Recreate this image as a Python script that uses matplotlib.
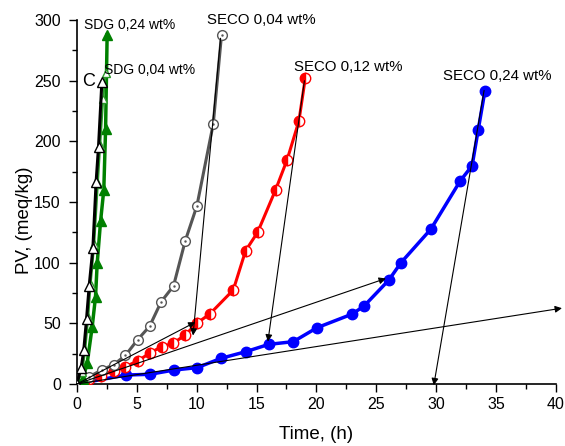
import matplotlib
matplotlib.use("Agg")
import matplotlib.pyplot as plt
from matplotlib.ticker import MultipleLocator

plt.rcParams['font.family'] = ['Liberation Sans', 'DejaVu Sans']

# Data (time in h, PV in meq/kg)
c_t = [0, 0.36, 0.58, 0.81, 1.03, 1.34, 1.61, 1.81, 2.09]
c_pv = [0, 13, 28, 53.6, 80.8, 112, 166.7, 195.6, 249]

sdg004_t = [0, 0.45, 0.7, 0.95, 1.15, 1.45, 1.75, 1.95, 2.2, 2.4]
sdg004_pv = [0, 10, 28, 55, 82, 115, 165, 197, 235, 256]

sdg024_t = [0, 0.5, 0.86, 1.28, 1.56, 1.7, 1.98, 2.25, 2.4, 2.53]
sdg024_pv = [0, 4, 17, 47, 72, 99.5, 134, 160, 210, 288]

seco004_t = [0, 1.03, 2.06, 3.09, 4.06, 5.07, 6.07, 7.04, 8.07, 9.05, 10.02, 11.39, 12.08]
seco004_pv = [0, 6, 11.5, 16, 23.6, 36.5, 47.5, 67.8, 80.8, 118, 146.7, 214.5, 288]

seco012_t = [0, 1, 2, 3.1, 4.06, 5.07, 6.07, 7.07, 8.04, 9.05, 10.07, 11.1, 13.06, 14.09, 15.09, 16.59, 17.56, 18.54, 19.07]
seco012_pv = [0, 4, 7, 11, 14.3, 19, 25.3, 30.8, 33.5, 40.5, 50.5, 57.7, 77.5, 109.9, 125, 160, 185, 216.8, 252]

seco024_t = [0, 4.09, 6.1, 8.1, 10.05, 12.05, 14.09, 16.03, 18.07, 20.05, 23.0, 24.0, 26.05, 27.06, 29.56, 32.0, 33.0, 33.5, 34.07]
seco024_pv = [0, 7.4, 8, 11.5, 13.5, 21.2, 26.6, 32.7, 34.9, 46.4, 57.7, 64.5, 85.7, 100, 127.7, 167.3, 180, 209, 241.7]

fig = plt.figure(figsize=(5.65, 4.46), dpi=100)
ax = fig.add_axes([0.136, 0.139, 0.848, 0.816])

ax.plot(seco024_t, seco024_pv, '-o', color='#0000ff', lw=2.5, ms=7.5,
        mfc='#0000ff', mec='#0000ff', zorder=3)
ax.plot(seco012_t, seco012_pv, '-o', color='#ff0000', lw=2.2, ms=7.5,
        fillstyle='left', mfc='#ff0000', mfcalt='white', mec='#ff0000', mew=1, zorder=3)
ax.plot(seco004_t, seco004_pv, '-o', color='#555555', lw=2.2, ms=7,
        mfc='white', mec='#555555', mew=1, zorder=3)
ax.plot(seco004_t, seco004_pv, '.', color='#555555', ms=1.5, zorder=4)
ax.plot(sdg024_t, sdg024_pv, '-^', color='#008000', lw=2.5, ms=7,
        mfc='#008000', mec='#008000', zorder=3)
ax.plot(sdg004_t, sdg004_pv, '-^', color='#2a9a2a', lw=1.5, ms=6,
        mfc='white', mec='#2a9a2a', zorder=3)
ax.plot(c_t, c_pv, '-^', color='black', lw=2.2, ms=7.5,
        mfc='white', mec='black', mew=1, zorder=4)

# annotation arrows
arrows = [((0, 0), (9.9, 51)), ((0, 0), (25.8, 87)), ((0, 0), (40.5, 62.5)),
          ((12.0, 285), (9.7, 40)), ((19.0, 250), (15.95, 35)), ((34.0, 242), (29.8, -1))]
for (x0, y0), (x1, y1) in arrows:
    ax.annotate('', xy=(x1, y1), xytext=(x0, y0),
                arrowprops=dict(arrowstyle='-|>', color='black', lw=0.8,
                                mutation_scale=10, shrinkA=0, shrinkB=0),
                annotation_clip=False, zorder=5)

ax.text(0.6, 296, 'SDG 0,24 wt%', fontsize=10, va='center', ha='left')
ax.text(2.25, 259, 'SDG 0,04 wt%', fontsize=10, va='center', ha='left')
ax.text(0.45, 249, 'C', fontsize=13, va='center', ha='left')
ax.text(10.9, 300, 'SECO 0,04 wt%', fontsize=10.8, va='center', ha='left')
ax.text(18.1, 261, 'SECO 0,12 wt%', fontsize=10.8, va='center', ha='left')
ax.text(30.6, 254, 'SECO 0,24 wt%', fontsize=10.8, va='center', ha='left')

ax.set_xlim(0, 40)
ax.set_ylim(0, 300)
ax.xaxis.set_major_locator(MultipleLocator(5))
ax.xaxis.set_minor_locator(MultipleLocator(2.5))
ax.yaxis.set_major_locator(MultipleLocator(50))
ax.yaxis.set_minor_locator(MultipleLocator(25))
ax.tick_params(which='major', direction='out', length=5.5, width=1, labelsize=11.5)
ax.tick_params(which='minor', direction='out', length=3.5, width=1)
ax.tick_params(axis='y', which='major', pad=6)
ax.tick_params(axis='x', which='major', pad=4)
for s in ['top', 'right']:
    ax.spines[s].set_visible(False)
for s in ['left', 'bottom']:
    ax.spines[s].set_linewidth(1.2)

ax.set_xlabel('Time, (h)', fontsize=13.5)
ax.set_ylabel('PV, (meq/kg)', fontsize=13.5)
ax.xaxis.set_label_coords(0.5, -0.115)
ax.yaxis.set_label_coords(-0.092, 0.45)

fig.savefig('out.png', dpi=100)
